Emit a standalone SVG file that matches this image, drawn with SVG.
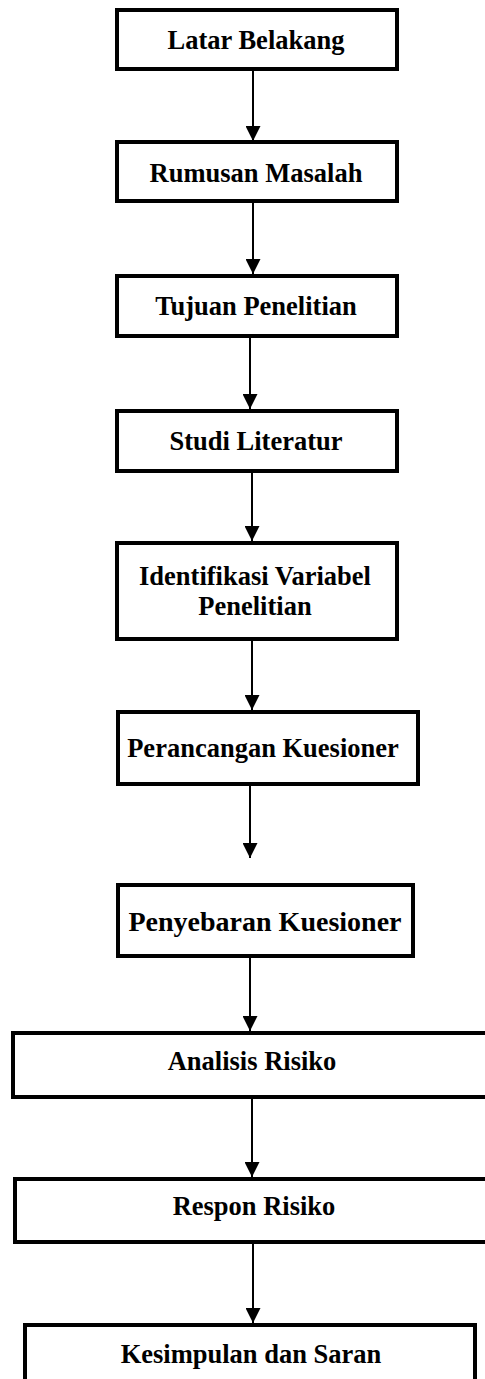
<svg xmlns="http://www.w3.org/2000/svg" width="485" height="1379" viewBox="0 0 485 1379">
<style>
.box{fill:#fff;stroke:#000;stroke-width:4}
.lbl{font-family:"Liberation Serif","Times New Roman",serif;font-weight:bold;font-size:26.5px;text-anchor:middle;fill:#000}
.big{font-size:28px}
.conn{stroke:#000;stroke-width:2;fill:none;marker-end:url(#ah)}
</style>
<defs>
<marker id="ah" viewBox="0 0 15 15" refX="15" refY="7.5" markerWidth="15" markerHeight="15" orient="auto" markerUnits="userSpaceOnUse">
<path d="M0,0 L15,7.5 L0,15 z" fill="#000"/>
</marker>
</defs>
<rect width="485" height="1379" fill="#fff"/>
<g id="connectors">
<line class="conn" x1="253" y1="71" x2="253" y2="141"/>
<line class="conn" x1="253" y1="203" x2="253" y2="274"/>
<line class="conn" x1="250" y1="338" x2="250" y2="409"/>
<line class="conn" x1="252" y1="473" x2="252" y2="541"/>
<line class="conn" x1="252" y1="641" x2="252" y2="710"/>
<line class="conn" x1="250" y1="786" x2="250" y2="858"/>
<line class="conn" x1="250" y1="958" x2="250" y2="1031"/>
<line class="conn" x1="252" y1="1099" x2="252" y2="1177"/>
<line class="conn" x1="253" y1="1244" x2="253" y2="1323"/>
</g>
<g id="n1"><rect class="box" x="117" y="10" width="280" height="59"/><text class="lbl" x="256" y="49">Latar Belakang</text></g>
<g id="n2"><rect class="box" x="117" y="142" width="280" height="59"/><text class="lbl" x="256" y="182">Rumusan Masalah</text></g>
<g id="n3"><rect class="box" x="117" y="276" width="280" height="60"/><text class="lbl" x="256" y="315">Tujuan Penelitian</text></g>
<g id="n4"><rect class="box" x="117" y="411" width="280" height="60"/><text class="lbl" x="256" y="450">Studi Literatur</text></g>
<g id="n5"><rect class="box" x="117" y="543" width="280" height="96"/><text class="lbl" x="255" y="585">Identifikasi Variabel</text><text class="lbl" x="255" y="615">Penelitian</text></g>
<g id="n6"><rect class="box" x="118" y="712" width="300" height="72"/><text class="lbl" x="263" y="757">Perancangan Kuesioner</text></g>
<g id="n7"><rect class="box" x="118" y="885" width="295" height="71"/><text class="lbl big" x="265" y="931">Penyebaran Kuesioner</text></g>
<g id="n8"><rect class="box" x="13" y="1033" width="480" height="64"/><text class="lbl" x="252" y="1070">Analisis Risiko</text></g>
<g id="n9"><rect class="box" x="15" y="1179" width="480" height="63"/><text class="lbl" x="254" y="1215">Respon Risiko</text></g>
<g id="n10"><rect class="box" x="25" y="1325" width="450" height="70"/><text class="lbl" x="251" y="1363">Kesimpulan dan Saran</text></g>
</svg>
